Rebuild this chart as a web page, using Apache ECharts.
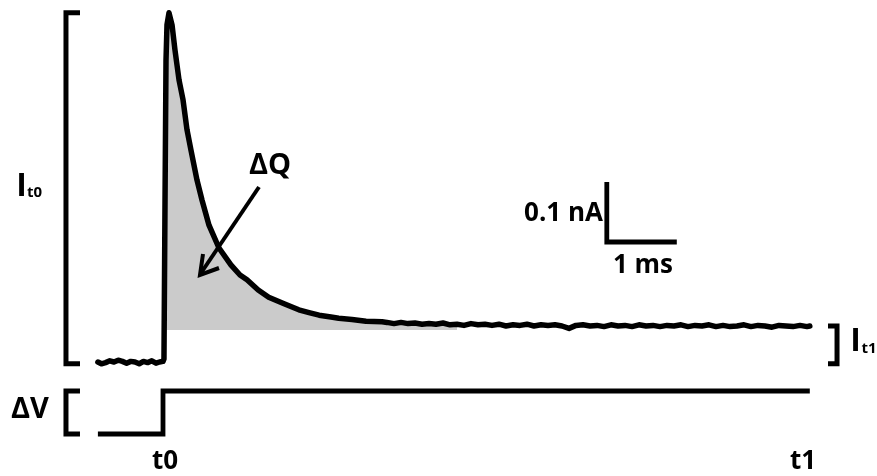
<!DOCTYPE html>
<html>
<head>
<meta charset="utf-8">
<script src="https://cdn.jsdelivr.net/npm/echarts@6/dist/echarts.min.js"></script>
<style>
html,body{margin:0;padding:0;background:#fff;}
#chart{width:877px;height:476px;}
</style>
</head>
<body>
<div id="chart"></div>
<script>
// ---- Data (time in ms, current in nA, voltage in mV) ----
const traceTime = [
  -0.93,-0.88,-0.82,-0.76,-0.70,-0.64,-0.58,-0.52,-0.46,-0.40,-0.34,-0.28,-0.22,-0.16,-0.10,-0.05,0.00,
  0.014,0.029,0.043,0.057,0.086,0.129,0.171,0.229,0.286,0.343,0.40,0.486,0.557,0.657,0.80,0.97,1.10,1.20,
  1.36,1.51,1.73,1.94,2.10,2.23,2.40,2.51,2.70,2.90,3.13,
  3.2,3.3,3.4,3.5,3.6,3.7,3.8,3.9,4.0,4.1,4.2,4.3,4.4,4.5,4.6,4.7,4.8,4.9,5.0,5.1,5.2,5.3,5.4,5.5,5.6,5.7,5.8,5.9,
  6.0,6.1,6.2,6.3,6.4,6.5,6.6,6.7,6.8,6.9,7.0,7.1,7.2,7.3,7.4,7.5,7.6,7.7,7.8,7.9,8.0,8.1,8.2,8.3,8.4,8.5,8.6,8.7,
  8.8,8.9,9.0,9.1,9.2,9.24
];
const traceCurrent = [
  0.000,-0.003,-0.001,0.002,0.000,0.003,0.001,-0.002,0.001,0.000,-0.003,0.001,-0.001,0.002,-0.002,0.000,0.001,
  0.005,0.270,0.503,0.562,0.582,0.562,0.520,0.470,0.437,0.387,0.353,0.303,0.270,0.228,0.190,0.162,0.145,0.137,
  0.120,0.108,0.097,0.087,0.082,0.078,0.075,0.073,0.071,0.068,0.067,
  0.066,0.064,0.066,0.064,0.065,0.063,0.064,0.063,0.065,0.062,0.063,0.061,0.064,0.062,0.063,0.061,0.063,0.060,0.062,0.061,0.063,0.060,0.062,0.061,0.062,0.060,0.056,0.061,
  0.062,0.060,0.061,0.059,0.062,0.060,0.061,0.059,0.062,0.060,0.061,0.059,0.061,0.060,0.062,0.059,0.061,0.060,0.062,0.059,0.061,0.059,0.060,0.062,0.059,0.061,0.060,0.058,
  0.061,0.060,0.059,0.061,0.059,0.060
];
const voltageTime = [-0.93, 0.0, 0.0, 9.24];
const voltageValue = [0, 0, 20, 20];

const chargeBase = 0.0533;      // current level under the shaded charge area (nA)
const chargeStart = 0.029;      // ms
const chargeEnd = 4.2;          // ms

const scaleCurrent = 0.1;       // nA
const scaleTime = 1;            // ms
const scaleOrigin = [6.34, 0.3];

const labels = { dq: 'ΔQ', dv: 'ΔV', t0: 't0', t1: 't1', nA: '0.1 nA', ms: '1 ms', I: 'I', sub0: 't0', sub1: 't1' };

// ---- Build series data ----
const trace = traceTime.map((t, i) => [t, traceCurrent[i]]);
const shade = trace.filter(p => p[0] >= chargeStart && p[0] <= chargeEnd);
const voltage = voltageTime.map((t, i) => [t, voltageValue[i]]);
const peak = Math.max(...traceCurrent);
const base = Math.min(...traceCurrent.slice(0, 17));
const steady = traceCurrent[traceCurrent.length - 1];
const vLow = Math.min(...voltageValue), vHigh = Math.max(...voltageValue);

const bxL = -1.386, bxLs = -1.186, bxR = 9.629, bxRs = 9.5;
const bracketIt0 = [[bxLs, peak], [bxL, peak], [bxL, base], [bxLs, base]];
const bracketIt1 = [[bxRs, steady], [bxR, steady], [bxR, base], [bxRs, base]];
const bracketDV = [[bxLs, vHigh], [bxL, vHigh], [bxL, vLow], [bxLs, vLow]];
const scaleBar = [
  [scaleOrigin[0], scaleOrigin[1]],
  [scaleOrigin[0], scaleOrigin[1] - scaleCurrent],
  [scaleOrigin[0] + scaleTime, scaleOrigin[1] - scaleCurrent]
];

const chart = echarts.init(document.getElementById('chart'));
const FONT = '"Open Sans", "Liberation Sans", sans-serif';
const txt = (text, x, y, size, align) => ({
  type: 'text', x: x, y: y, silent: true,
  style: { text: text, fontFamily: FONT, fontWeight: 'bold', fontSize: size, fill: '#000',
           textAlign: align || 'center', textVerticalAlign: 'middle' }
});

const bracketStyle = { color: '#000', width: 5, join: 'miter', cap: 'butt' };

chart.setOption({
  animation: false,
  backgroundColor: '#fff',
  grid: [
    { left: 58, right: 14, top: 2, bottom: 54, containLabel: false },
    { left: 58, right: 14, top: 369.5, bottom: 20.5, containLabel: false }
  ],
  xAxis: [
    { type: 'value', gridIndex: 0, min: -1.5, max: 10, show: false },
    { type: 'value', gridIndex: 1, min: -1.5, max: 10, show: false }
  ],
  yAxis: [
    { type: 'value', gridIndex: 0, min: -0.1, max: 0.6, show: false },
    { type: 'value', gridIndex: 1, min: -10, max: 30, show: false }
  ],
  series: [
    { type: 'line', xAxisIndex: 0, yAxisIndex: 0, data: shade, showSymbol: false, symbol: 'none',
      lineStyle: { width: 0, opacity: 0 }, areaStyle: { color: '#cbcbcb', opacity: 1, origin: chargeBase }, z: 1, silent: true },
    { type: 'line', xAxisIndex: 0, yAxisIndex: 0, data: trace, showSymbol: false, symbol: 'none',
      lineStyle: { color: '#000', width: 5.5, join: 'round', cap: 'round' }, z: 3, silent: true },
    { type: 'line', xAxisIndex: 1, yAxisIndex: 1, data: voltage, showSymbol: false, symbol: 'none',
      lineStyle: { color: '#000', width: 4.8, join: 'miter', cap: 'butt' }, z: 3, silent: true },
    { type: 'line', xAxisIndex: 0, yAxisIndex: 0, data: scaleBar, showSymbol: false, symbol: 'none',
      lineStyle: { color: '#000', width: 4.8, join: 'miter', cap: 'butt' }, z: 3, silent: true },
    { type: 'line', xAxisIndex: 0, yAxisIndex: 0, data: bracketIt0, showSymbol: false, symbol: 'none',
      lineStyle: bracketStyle, z: 3, silent: true },
    { type: 'line', xAxisIndex: 0, yAxisIndex: 0, data: bracketIt1, showSymbol: false, symbol: 'none',
      lineStyle: bracketStyle, z: 3, silent: true },
    { type: 'line', xAxisIndex: 1, yAxisIndex: 1, data: bracketDV, showSymbol: false, symbol: 'none',
      lineStyle: bracketStyle, z: 3, silent: true }
  ],
  graphic: [
    txt(labels.dq, 270, 166, 29),
    txt(labels.nA, 603, 214, 26, 'right'),
    txt(labels.ms, 643, 266, 26),
    txt(labels.dv, 30, 410, 29),
    txt(labels.t0, 165, 462, 26),
    txt(labels.t1, 803, 462, 26),
    txt(labels.I, 21.5, 187, 32),
    txt(labels.sub0, 34.5, 193, 15),
    txt(labels.I, 855.5, 342, 32),
    txt(labels.sub1, 869, 349, 15),
    { type: 'line', silent: true, z: 10,
      shape: { x1: 259, y1: 187, x2: 201, y2: 273 },
      style: { stroke: '#000', lineWidth: 4 } },
    { type: 'polyline', silent: true, z: 10,
      shape: { points: [[203, 254], [200, 275], [219, 268]] },
      style: { stroke: '#000', lineWidth: 4, fill: null, lineJoin: 'miter' } }
  ]
});
</script>
</body>
</html>
